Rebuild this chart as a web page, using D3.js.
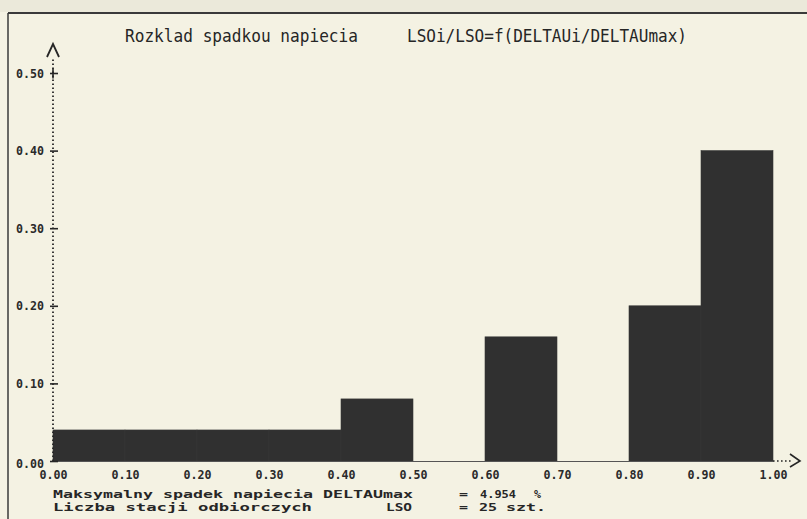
<!DOCTYPE html>
<html>
<head>
<meta charset="utf-8">
<script src="https://cdn.jsdelivr.net/npm/d3@7"></script>
<style>
  body { margin: 0; background: #f4f2e3; }
  svg { display: block; }
  .tick text { font-family: "DejaVu Sans Mono", monospace; font-weight: bold; fill: #2a2a2a; }
</style>
</head>
<body>
<div id="chart"></div>
<script>
// histogram data: share of stations per relative voltage drop bin
var binStarts = [0.0, 0.1, 0.2, 0.3, 0.4, 0.5, 0.6, 0.7, 0.8, 0.9];
var shares = [0.04, 0.04, 0.04, 0.04, 0.08, 0.0, 0.16, 0.0, 0.20, 0.40];
var binWidth = 0.1;
var xTicks = [0.0, 0.1, 0.2, 0.3, 0.4, 0.5, 0.6, 0.7, 0.8, 0.9, 1.0];
var yTicks = [0.0, 0.1, 0.2, 0.3, 0.4, 0.5];

var svgWidth = 807;
var svgHeight = 519;
var ink = "#262626";
var mono = "'DejaVu Sans Mono', monospace";

var svg = d3.select("#chart")
  .append("svg")
  .attr("width", svgWidth)
  .attr("height", svgHeight);

svg.append("rect")
  .attr("width", svgWidth)
  .attr("height", svgHeight)
  .attr("fill", "#f4f2e3");
svg.append("rect")
  .attr("width", svgWidth)
  .attr("height", 12)
  .attr("fill", "#ebe9da");

// frame lines
svg.append("line")
  .attr("x1", 8).attr("x2", svgWidth).attr("y1", 13).attr("y2", 13)
  .attr("stroke", "#3a3a3a").attr("stroke-width", 2);
svg.append("line")
  .attr("x1", 8).attr("x2", 8).attr("y1", 13).attr("y2", svgHeight)
  .attr("stroke", "#3a3a3a").attr("stroke-width", 1.5);

var x = d3.scaleLinear().domain([0, 1]).range([53, 773]);
var y = d3.scaleLinear().domain([0, 0.5]).range([461, 73]);

// bars
svg.append("g")
  .selectAll("rect")
  .data(binStarts.map(function(b, i) { return { start: b, value: shares[i] }; }))
  .enter()
  .filter(function(d) { return d.value > 0; })
  .append("rect")
  .attr("x", function(d) { return x(d.start); })
  .attr("width", function(d) { return x(d.start + binWidth) - x(d.start); })
  .attr("y", function(d) { return y(d.value); })
  .attr("height", function(d) { return y(0) - y(d.value); })
  .attr("fill", "#303030")
  .attr("stroke", "#383838")
  .attr("stroke-width", 0.6);

// x axis
var xAxis = svg.append("g")
  .attr("transform", "translate(0," + y(0) + ")")
  .call(d3.axisBottom(x).tickValues(xTicks).tickSize(0).tickPadding(9)
    .tickFormat(d3.format(".2f")));
xAxis.select(".domain").attr("stroke", "#555").attr("stroke-width", 1);
xAxis.selectAll(".tick text").attr("font-size", 12.5).attr("textLength", 28)
  .attr("lengthAdjust", "spacingAndGlyphs");

// dotted extension and arrow of x axis
svg.append("line")
  .attr("x1", x(1)).attr("x2", x(1) + 20).attr("y1", y(0)).attr("y2", y(0))
  .attr("stroke", ink).attr("stroke-width", 1.6).attr("stroke-dasharray", "1.6,2.4");
svg.append("path")
  .attr("d", "M" + (x(1) + 17) + "," + (y(0) - 7) + "L" + (x(1) + 27) + "," + y(0) +
    "L" + (x(1) + 17) + "," + (y(0) + 6))
  .attr("fill", "none").attr("stroke", ink).attr("stroke-width", 1.6);

// y axis
var yAxis = svg.append("g")
  .attr("transform", "translate(" + x(0) + ",0)")
  .call(d3.axisLeft(y).tickValues(yTicks).tickSize(0).tickPadding(9)
    .tickFormat(d3.format(".2f")));
yAxis.select(".domain").remove();
yAxis.selectAll(".tick text").attr("font-size", 12.5).attr("textLength", 28)
  .attr("lengthAdjust", "spacingAndGlyphs");
yAxis.selectAll(".tick").filter(function(d) { return d === 0; })
  .select("text").attr("dy", "0.55em");
yAxis.selectAll(".tick")
  .append("line")
  .attr("x1", -3).attr("x2", 5)
  .attr("stroke", ink).attr("stroke-width", 1.6);
yAxis.selectAll(".tick").filter(function(d) { return d === 0.5; })
  .append("line")
  .attr("y1", -5).attr("y2", 5)
  .attr("stroke", ink).attr("stroke-width", 1.6);

// dotted y axis line and arrow
svg.append("line")
  .attr("x1", x(0)).attr("x2", x(0)).attr("y1", y(0)).attr("y2", y(0.5) - 16)
  .attr("stroke", ink).attr("stroke-width", 1.8).attr("stroke-dasharray", "1.6,2.4");
svg.append("path")
  .attr("d", "M" + (x(0) - 6) + "," + (y(0.5) - 16) + "L" + x(0) + "," + (y(0.5) - 29) +
    "L" + (x(0) + 6) + "," + (y(0.5) - 16))
  .attr("fill", "none").attr("stroke", ink).attr("stroke-width", 1.8);

// title
function label(txt, px, py, len, size, weight) {
  svg.append("text")
    .attr("x", px).attr("y", py)
    .attr("font-family", mono)
    .attr("font-size", size)
    .attr("font-weight", weight)
    .attr("fill", ink)
    .attr("textLength", len)
    .attr("lengthAdjust", "spacingAndGlyphs")
    .text(txt);
}
label("Rozklad spadkou napiecia", 125, 42, 233, 17, "normal");
label("LSOi/LSO=f(DELTAUi/DELTAUmax)", 407, 42, 280, 17, "normal");

// footer
label("Maksymalny spadek napiecia DELTAUmax", 53, 498, 360, 11, "bold");
label("=", 459, 498, 9, 11, "bold");
label("4.954", 480, 498, 36, 11, "bold");
label("%", 534, 498, 7, 11, "bold");
label("Liczba stacji odbiorczych", 53, 511, 259, 11, "bold");
label("LSO", 386, 511, 26, 11, "bold");
label("=", 459, 511, 9, 11, "bold");
label("25", 479, 511, 18, 11, "bold");
label("szt.", 506, 511, 40, 11, "bold");
</script>
</body>
</html>
